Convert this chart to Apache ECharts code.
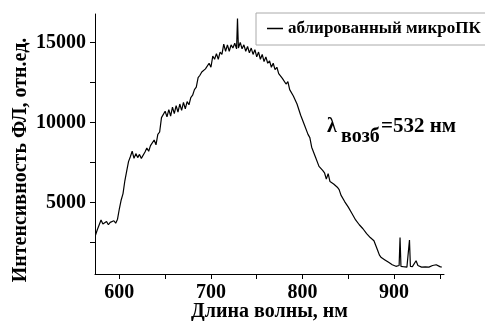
<!DOCTYPE html>
<html><head><meta charset="utf-8">
<script src="https://cdn.jsdelivr.net/npm/echarts@6/dist/echarts.min.js"></script>
<style>html,body{margin:0;padding:0;background:#fff}#c{width:485px;height:321px}</style>
</head><body><div id="c"></div>
<script>
const seriesName = 'аблированный микроПК';
const xTitle = 'Длина волны, нм';
const yTitle = 'Интенсивность ФЛ, отн.ед.';
const xTickLabels = [600, 700, 800, 900];
const xTicks = [600, 650, 700, 750, 800, 850, 900, 950];
const yTickLabels = [5000, 10000, 15000];
const yTicks = [2500, 5000, 7500, 10000, 12500, 15000];
const wavelength = [
574,576,578,580,582,584,586,588,590,592,594,596,598,600,602,604,606,608,610,612,
614,616,618,620,622,624,626,628,630,632,634,636,638,640,642,644,646,648,650,652,
654,656,658,660,662,664,666,668,670,672,674,676,678,680,682,684,686,688,690,692,
694,696,698,700,702,704,706,708,710,712,714,716,718,720,722,724,726,728,729,730,
732,734,736,738,740,742,744,746,748,750,752,754,756,758,760,762,764,766,768,770,
772,774,776,778,780,782,784,786,788,790,792,794,796,798,800,802,804,806,808,810,
812,814,816,818,820,822,824,826,828,830,832,834,836,838,840,842,844,846,848,850,
852,854,856,858,860,862,864,866,868,870,872,874,876,878,880,882,884,886,888,890,
892,894,896,898,900,902,904,905.5,906.5,907.5,910,912,914,915.8,916.8,917.8,920,922,924,926,
928,930,932,934,936,938,940,942,944,946,948,950,952
];
const intensity = [
2950,3300,3600,3900,3650,3600,3800,3600,3750,3700,3850,3700,3950,4600,5150,5550,6350,6950,7550,7850,
8200,7750,8050,7800,8000,7750,7850,8150,8400,8200,8550,8450,8900,8600,9250,9400,10300,10200,10700,10350,
10800,10400,10950,10550,11050,10650,11150,10750,11250,10850,11300,11100,11550,11700,12050,12200,12800,12950,13150,13050,
13350,13250,13700,13450,14150,13950,14300,13950,14400,14250,14900,14450,14850,14450,14850,14650,14950,14600,16500,14650,
15000,14600,14850,14450,14750,14350,14650,14250,14550,14100,14400,13950,14250,13800,14100,13700,13850,13450,13700,13300,
13450,13050,13150,12750,12850,12400,12550,12050,12150,11650,11600,11150,11100,10450,10500,9850,9800,9250,9050,8450,
8350,7850,7800,7250,7150,7000,6850,6450,6800,6300,6350,6150,6100,5950,5800,5450,5450,5050,5000,4700,
4600,4300,4250,3900,3900,3600,3600,3350,3300,3050,3050,2800,2800,2600,2300,2000,1700,1550,1450,1400,
1300,1250,1150,1100,1050,1000,1050,1050,2800,1000,980,1000,950,1000,2650,1000,980,1050,1350,1050,
960,950,920,960,930,950,980,1050,1000,1100,1000,980,950
];
const data = wavelength.map((w, i) => [w, intensity[i]]);
const F = 'Liberation Serif, Times New Roman, serif';
const chart = echarts.init(document.getElementById('c'), null, {renderer: 'canvas'});
chart.setOption({
  animation: false,
  backgroundColor: '#fff',
  grid: {left: 95, right: 41, top: 14, bottom: 47, containLabel: false, outerBoundsMode: 'none'},
  legend: {
    left: 256, top: 13, orient: 'horizontal',
    borderColor: '#aaa', borderWidth: 1, padding: [7, 12, 8, 11],
    icon: 'rect', itemWidth: 16, itemHeight: 1.5,
    itemStyle: {color: '#000'},
    textStyle: {fontFamily: F, fontWeight: 'bold', fontSize: 17, color: '#000'},
    data: [seriesName]
  },
  xAxis: {
    type: 'value', min: 573.4, max: 954.5,
    name: xTitle, nameLocation: 'middle', nameGap: 28, nameMoveOverlap: false,
    nameTextStyle: {fontFamily: F, fontWeight: 'bold', fontSize: 20, color: '#000'},
    axisLine: {show: true, lineStyle: {color: '#000', width: 1}},
    axisTick: {show: true, inside: false, length: 5, customValues: xTicks, lineStyle: {color: '#000'}},
    axisLabel: {customValues: xTickLabels, margin: 9, formatter: v => String(v), fontFamily: F, fontWeight: 'bold', fontSize: 20, color: '#000'},
    splitLine: {show: false}
  },
  yAxis: {
    type: 'value', min: 520, max: 16780,
    axisLine: {show: true, lineStyle: {color: '#000', width: 1}},
    axisTick: {show: true, inside: false, length: 5, customValues: yTicks, lineStyle: {color: '#000'}},
    axisLabel: {customValues: yTickLabels, margin: 9, formatter: v => String(v), fontFamily: F, fontWeight: 'bold', fontSize: 20, color: '#000'},
    splitLine: {show: false}
  },
  graphic: [
    {type: 'text', x: 21, y: 160, rotation: Math.PI / 2,
     style: {text: yTitle, fontFamily: F, fontWeight: 'bold', fontSize: 20, fill: '#000', align: 'center', verticalAlign: 'middle'}},
    {type: 'text', x: 327, y: 127,
     style: {text: 'λ', fontFamily: F, fontWeight: 'bold', fontSize: 20, fill: '#000', align: 'left', verticalAlign: 'middle'}},
    {type: 'text', x: 341, y: 137,
     style: {text: 'возб', fontFamily: F, fontWeight: 'bold', fontSize: 20, fill: '#000', align: 'left', verticalAlign: 'middle'}},
    {type: 'text', x: 381, y: 127,
     style: {text: '=532 нм', fontFamily: F, fontWeight: 'bold', fontSize: 21, fill: '#000', align: 'left', verticalAlign: 'middle'}}
  ],
  series: [{
    name: seriesName, type: 'line', data: data, symbol: 'none',
    lineStyle: {color: '#000', width: 1.2}, itemStyle: {color: '#000'}
  }]
});
</script></body></html>
